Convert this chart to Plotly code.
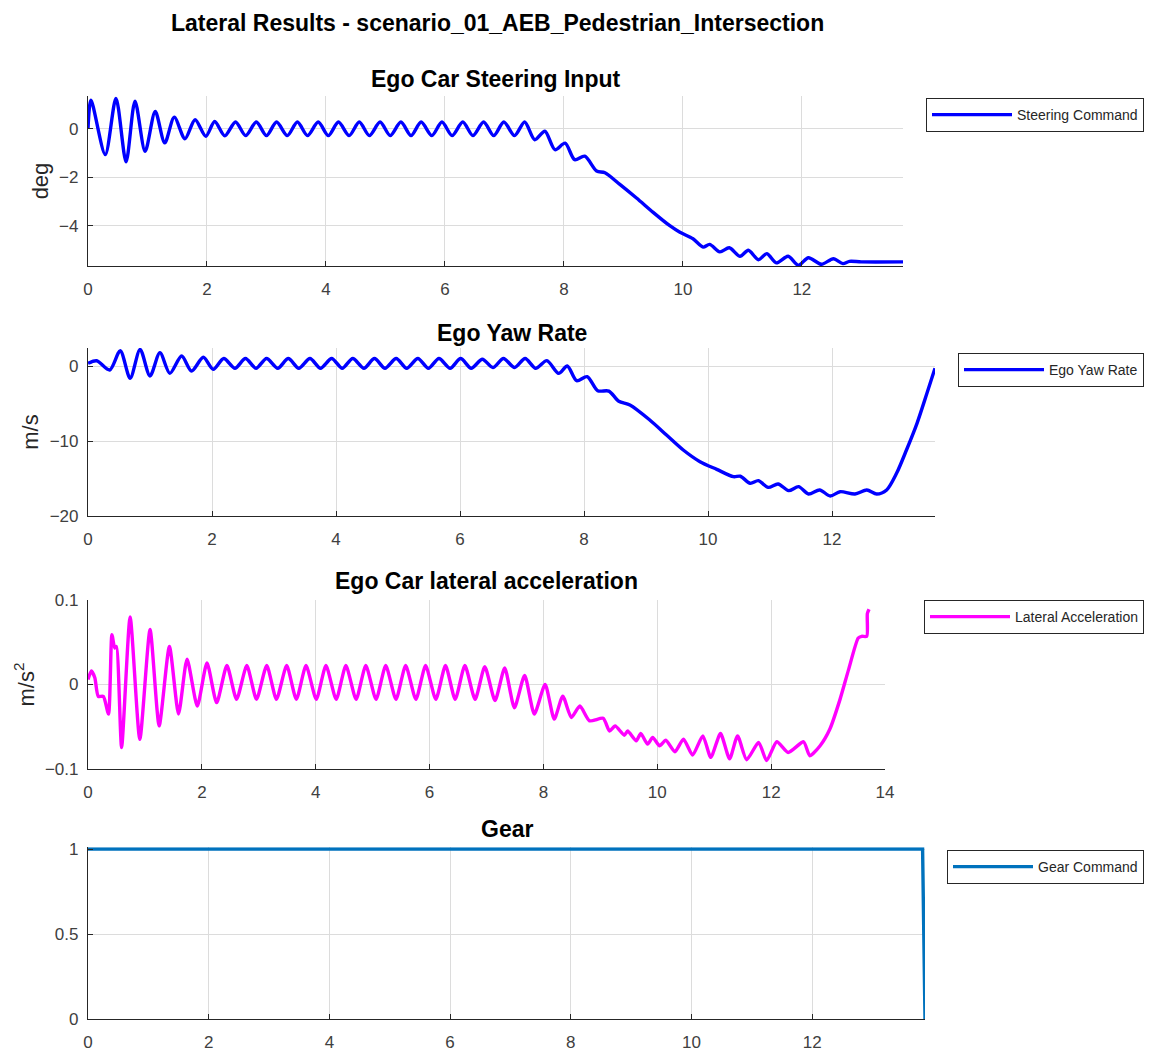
import plotly.graph_objects as go

# ---------------- data ----------------
steer_t = [0, 0.05, 0.29, 0.47, 0.64, 0.79, 0.96, 1.13, 1.29, 1.45, 1.63, 1.80, 1.98,
           2.13, 2.30, 2.48, 2.65, 2.83, 3.00, 3.17, 3.35, 3.52, 3.69, 3.87, 4.04, 4.21,
           4.39, 4.56, 4.73, 4.91, 5.08, 5.26, 5.43, 5.60, 5.78, 5.95, 6.12, 6.30, 6.47,
           6.65, 6.82, 6.99, 7.17, 7.34,
           7.51, 7.68, 7.85, 8.02, 8.18, 8.35, 8.55, 8.69, 8.94, 9.22, 9.50, 9.78, 9.95,
           10.17, 10.34, 10.45, 10.62, 10.78, 10.96, 11.10, 11.27, 11.41, 11.57, 11.77,
           11.94, 12.11, 12.33, 12.53, 12.69, 12.80, 13.00, 13.70]
steer_v = [0, 1.18, -1.06, 1.25, -1.36, 1.14, -0.93, 0.71, -0.58, 0.48, -0.41, 0.37, -0.31,
           0.30, -0.29, 0.28, -0.28, 0.28, -0.28, 0.28, -0.28, 0.28, -0.28, 0.28, -0.28, 0.28,
           -0.28, 0.28, -0.28, 0.28, -0.28, 0.28, -0.28, 0.28, -0.28, 0.28, -0.28, 0.28, -0.28,
           0.28, -0.28, 0.28, -0.28, 0.28,
           -0.45, -0.10, -0.86, -0.59, -1.27, -1.13, -1.74, -1.81, -2.29, -2.85, -3.44, -3.99, -4.26,
           -4.53, -4.87, -4.76, -5.07, -4.90, -5.25, -5.00, -5.39, -5.14, -5.52, -5.25,
           -5.62, -5.31, -5.58, -5.35, -5.55, -5.46, -5.48, -5.48]

yaw_t = [0, 0.14, 0.35, 0.52, 0.68, 0.84, 1.00, 1.16, 1.32, 1.51, 1.67, 1.86, 2.02,
         2.19, 2.37, 2.54, 2.71, 2.88, 3.06, 3.23, 3.40, 3.58, 3.75, 3.93, 4.10, 4.27,
         4.45, 4.62, 4.79, 4.97, 5.14, 5.32, 5.49, 5.66, 5.84, 6.01, 6.18, 6.36, 6.53,
         6.70, 6.88, 7.05, 7.22, 7.40,
         7.59, 7.73, 7.88, 8.05, 8.22, 8.40, 8.56, 8.74, 9.06, 9.33, 9.60, 9.87, 10.14,
         10.41, 10.52, 10.68, 10.81, 10.97, 11.13, 11.30, 11.46, 11.62, 11.80, 11.97,
         12.13, 12.37, 12.56, 12.72, 12.88, 13.04, 13.20, 13.37, 13.53, 13.66]
yaw_v = [0.36, 0.70, -0.53, 2.04, -1.64, 2.22, -1.33, 1.78, -0.98, 1.33, -0.67, 1.16, -0.44,
         1.00, -0.30, 1.00, -0.30, 1.00, -0.30, 1.00, -0.30, 1.00, -0.30, 1.00, -0.30, 1.00,
         -0.30, 1.00, -0.30, 1.00, -0.30, 1.00, -0.30, 1.00, -0.30, 1.00, -0.30, 0.90, -0.20,
         1.00, -0.20, 1.00, -0.31, 0.71,
         -0.98, 0.00, -1.96, -1.42, -3.30, -3.35, -4.70, -5.20, -7.20, -9.20, -11.20, -12.76, -13.78,
         -14.76, -14.70, -15.64, -15.29, -16.18, -15.73, -16.62, -16.09, -17.07, -16.53, -17.33,
         -16.76, -17.07, -16.53, -17.07, -16.53, -14.31, -11.20, -7.64, -3.64, -0.31]

lat_t = [0, 0.06, 0.12, 0.18, 0.27, 0.36, 0.42, 0.47, 0.50, 0.59, 0.74, 0.91, 1.09, 1.25,
         1.43, 1.59, 1.74, 1.92, 2.09, 2.26,
         2.44, 2.61, 2.79, 2.96, 3.14, 3.31, 3.49, 3.66, 3.83, 4.01, 4.18, 4.36, 4.53, 4.71,
         4.88, 5.06, 5.23, 5.41, 5.58, 5.76, 5.93, 6.11, 6.28, 6.45, 6.62, 6.80, 6.97, 7.15, 7.32,
         7.49, 7.67, 7.84, 8.03, 8.19, 8.34, 8.49, 8.64, 8.81, 9.05, 9.16, 9.26, 9.42, 9.48,
         9.63, 9.71, 9.83, 9.92, 10.04, 10.15, 10.31, 10.46, 10.62, 10.80, 10.94, 11.11, 11.27,
         11.41, 11.57, 11.78, 11.92, 12.10, 12.30, 12.57, 12.68, 12.86, 13.03, 13.21, 13.36,
         13.53, 13.59, 13.68, 13.69, 13.72]
lat_v = [0.006, 0.016, 0.008, -0.014, -0.014, -0.035, 0.059, 0.043, 0.045, -0.0745, 0.080,
         -0.065, 0.065, -0.049, 0.045, -0.035, 0.030, -0.0255, 0.0255, -0.0215,
         0.0224, -0.0176, 0.0224, -0.0176, 0.0224, -0.0176, 0.0224, -0.0176, 0.0224, -0.0176,
         0.0224, -0.0176, 0.0224, -0.0176, 0.0224, -0.0176, 0.0224, -0.0176, 0.0224, -0.0176,
         0.0224, -0.0176, 0.0224, -0.0176, 0.0224, -0.0176, 0.0210, -0.0190, 0.0196,
         -0.0275, 0.0106, -0.035, 0.0, -0.041, -0.0137, -0.039, -0.0255, -0.043, -0.040, -0.055,
         -0.049, -0.060, -0.055, -0.0667, -0.058, -0.0706, -0.0627, -0.0725, -0.0660, -0.0796,
         -0.0647, -0.0835, -0.0608, -0.0863, -0.058, -0.088, -0.0608, -0.089, -0.0686, -0.090,
         -0.0678, -0.0804, -0.0678, -0.0843, -0.0725, -0.053, -0.0176, 0.0176, 0.055, 0.057,
         0.057, 0.084, 0.089]

gear_t = [0, 13.83, 13.87]
gear_v = [1, 1, 0]

x_ticks = [0, 2, 4, 6, 8, 10, 12]
x_ticks3 = [0, 2, 4, 6, 8, 10, 12, 14]
y1_ticks = [0, -2, -4]
y1_text = ["0", "\u22122", "\u22124"]
y2_ticks = [0, -10, -20]
y2_text = ["0", "\u221210", "\u221220"]
y3_ticks = [0.1, 0, -0.1]
y3_text = ["0.1", "0", "\u22120.1"]
y4_ticks = [1, 0.5, 0]
y4_text = ["1", "0.5", "0"]

titles = ["Ego Car Steering Input", "Ego Yaw Rate", "Ego Car lateral acceleration", "Gear"]
main_title = "Lateral Results - scenario_01_AEB_Pedestrian_Intersection"

# ---------------- layout helpers ----------------
OFF = 8                      # page body margin
W, H = 1154 - OFF, 1050 - OFF
FONT = "Liberation Sans, Arial, sans-serif"
AX = "#262626"
GRID = "#dcdcdc"


def px_x(p):
    return (p - OFF) / W


def px_y(p):
    return 1 - (p - OFF) / H


fig = go.Figure()

fig.add_trace(go.Scatter(x=steer_t, y=steer_v, mode="lines", name="Steering Command",
                         line=dict(color="#0000FF", width=3.4, shape="spline", smoothing=0.8),
                         xaxis="x", yaxis="y", legend="legend"))
fig.add_trace(go.Scatter(x=yaw_t, y=yaw_v, mode="lines", name="Ego Yaw Rate",
                         line=dict(color="#0000FF", width=3.4, shape="spline", smoothing=0.8),
                         xaxis="x2", yaxis="y2", legend="legend2"))
fig.add_trace(go.Scatter(x=lat_t, y=lat_v, mode="lines", name="Lateral Acceleration",
                         line=dict(color="#FF00FF", width=3.4, shape="spline", smoothing=0.6),
                         xaxis="x3", yaxis="y3", legend="legend3"))
fig.add_trace(go.Scatter(x=gear_t, y=gear_v, mode="lines", name="Gear Command",
                         line=dict(color="#0072BD", width=3.4),
                         xaxis="x4", yaxis="y4", legend="legend4"))

# axes boxes in reference pixels: (left, right, top, bottom)
boxes = [(88, 903, 96, 266), (88, 935, 348, 516), (88, 885, 600, 769), (88, 925, 847.3, 1019)]
xranges = [[0, 13.70], [0, 13.66], [0, 14], [0, 13.87]]
yranges = [[-5.65, 1.35], [-20, 2.4], [-0.1, 0.1], [0, 1.01]]
xtick_sets = [x_ticks, x_ticks, x_ticks3, x_ticks]
ytick_sets = [(y1_ticks, y1_text), (y2_ticks, y2_text), (y3_ticks, y3_text), (y4_ticks, y4_text)]
ylabels = ["deg", "m/s", "m/s<sup>2</sup>", None]

axis_common = dict(showline=True, linecolor=AX, linewidth=1.2, ticks="inside", ticklen=5,
                   tickcolor=AX, tickwidth=1, showgrid=True, gridcolor=GRID, gridwidth=1,
                   zeroline=False, mirror=False, automargin=False,
                   tickfont=dict(family=FONT, size=17, color="#404040"))

layout_axes = {}
for i in range(4):
    l, r, t, b = boxes[i]
    sx = "" if i == 0 else str(i + 1)
    layout_axes["xaxis" + sx] = dict(axis_common, domain=[px_x(l), px_x(r)], range=xranges[i],
                                     tickvals=xtick_sets[i], anchor="y" + sx,
                                     ticklabelstandoff=7)
    yt, ytext = ytick_sets[i]
    yax = dict(axis_common, domain=[px_y(b), px_y(t)], range=yranges[i],
               tickvals=yt, ticktext=ytext, anchor="x" + sx, ticklabelstandoff=5)
    if ylabels[i]:
        yax["title"] = dict(text=ylabels[i], standoff=4,
                            font=dict(family=FONT, size=22, color="#262626"))
    layout_axes["yaxis" + sx] = yax

annotations = []
title_y = [79, 333, 581, 829]
for i in range(4):
    l, r, t, b = boxes[i]
    annotations.append(dict(text="<b>%s</b>" % titles[i], x=px_x((l + r) / 2), y=px_y(title_y[i]),
                            xref="paper", yref="paper", xanchor="center", yanchor="middle",
                            showarrow=False, font=dict(family=FONT, size=23, color="#000000")))
annotations.append(dict(text="<b>%s</b>" % main_title, x=px_x(497), y=1,
                        xref="paper", yref="paper", xanchor="center", yanchor="top",
                        showarrow=False, font=dict(family=FONT, size=23, color="#000000")))

legend_pos = [98, 353, 600, 850]
legend_common = dict(xanchor="right", yanchor="top", bgcolor="#FFFFFF", bordercolor=AX,
                     borderwidth=1, font=dict(family=FONT, size=14, color="#262626"),
                     itemwidth=80, tracegroupgap=0)
legends = {}
for i in range(4):
    key = "legend" if i == 0 else "legend%d" % (i + 1)
    legends[key] = dict(legend_common, x=px_x(1144), y=px_y(legend_pos[i]))

fig.update_layout(
    template="none",
    width=W, height=H,
    margin=dict(l=0, r=0, t=0, b=0, autoexpand=False),
    paper_bgcolor="#FFFFFF", plot_bgcolor="#FFFFFF",
    annotations=annotations,
    showlegend=True,
    **layout_axes,
    **legends,
)

fig.write_html("out.html")
